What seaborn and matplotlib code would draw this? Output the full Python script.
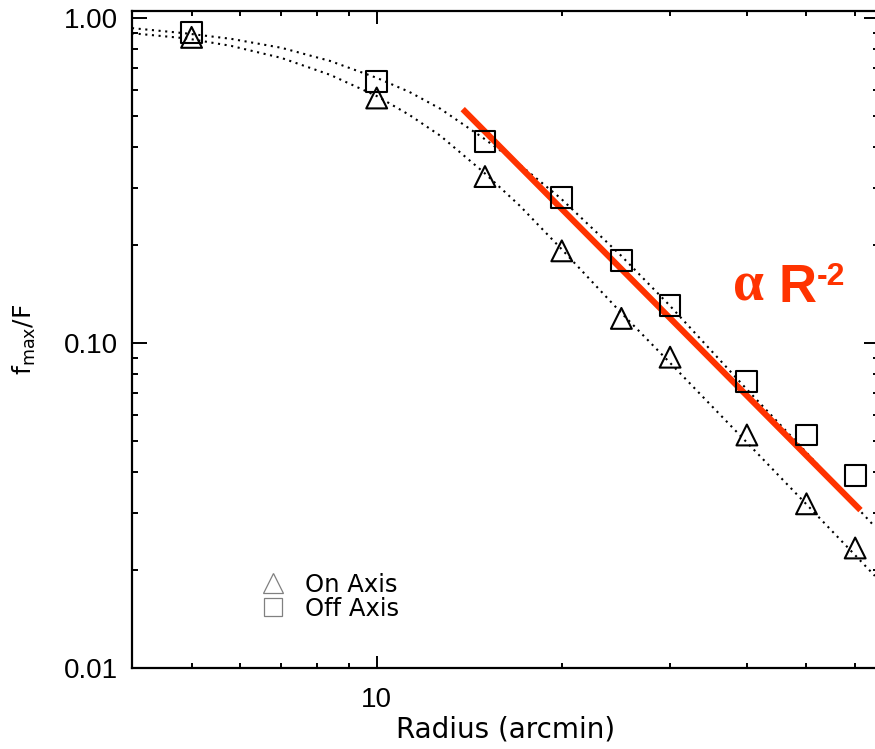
import matplotlib
matplotlib.use("Agg")
import matplotlib.pyplot as plt
import seaborn as sns
from matplotlib.lines import Line2D
from matplotlib.ticker import FixedLocator, NullFormatter, FixedFormatter

# ---- data ----
radius = [5, 10, 15, 20, 25, 30, 40, 50, 60]
on_axis = [0.871, 0.567, 0.325, 0.192, 0.119, 0.0904, 0.0521, 0.0320, 0.0234]
off_axis = [0.902, 0.637, 0.416, 0.281, 0.179, 0.130, 0.0760, 0.0521, 0.0391]

# dotted fit curves
fit_r = [4.0, 4.9, 5.8, 7.0, 8.4, 10.0, 11.3, 12.7, 14.9, 17.1, 19.9, 24.9, 29.9,
         39.8, 49.9, 59.9, 64.6]
off_fit = [0.930, 0.896, 0.862, 0.809, 0.737, 0.654, 0.592, 0.525, 0.427, 0.353,
           0.279, 0.1866, 0.1309, 0.0727, 0.0462, 0.0317, 0.0272]
on_fit = [0.897, 0.865, 0.820, 0.753, 0.668, 0.575, 0.503, 0.4335, 0.336, 0.264,
          0.196, 0.1246, 0.0874, 0.0499, 0.0320, 0.0223, 0.0192]

slope_r = [13.8, 61.2]
slope_f = [0.524, 0.0306]

x_major = [10]
x_major_labels = ["10"]
x_minor = [4, 5, 6, 7, 8, 9, 20, 30, 40, 50, 60]
y_major = [0.01, 0.1, 1.0]
y_major_labels = ["0.01", "0.10", "1.00"]
y_minor = [0.02, 0.03, 0.04, 0.05, 0.06, 0.07, 0.08, 0.09,
           0.2, 0.3, 0.4, 0.5, 0.6, 0.7, 0.8, 0.9]

sns.set_style("ticks")
plt.rcParams["font.family"] = ["Liberation Sans", "DejaVu Sans"]
plt.rcParams["mathtext.fontset"] = "dejavusans"
for k in ["text.color", "axes.labelcolor", "xtick.color", "ytick.color", "axes.edgecolor"]:
    plt.rcParams[k] = "black"

RED = "#FF3300"
W, H = 875, 749
fig = plt.figure(figsize=(W / 100, H / 100), dpi=100)
ax = fig.add_axes([132 / W, 1 - 668 / H, (879 - 132) / W, (668 - 11) / H])

# dotted fit curves
sns.lineplot(x=fit_r, y=off_fit, ax=ax, color="black", sort=False, estimator=None,
             linewidth=1.5, linestyle=(0, (1, 2.2)))
sns.lineplot(x=fit_r, y=on_fit, ax=ax, color="black", sort=False, estimator=None,
             linewidth=1.5, linestyle=(0, (1, 2.2)))

# R^-2 line
sns.lineplot(x=slope_r, y=slope_f, ax=ax, color=RED, sort=False, estimator=None,
             linewidth=4.4, solid_capstyle="butt")

# data points
sns.scatterplot(x=radius, y=on_axis, ax=ax, marker="^", s=225,
                facecolors="none", edgecolor="black", linewidth=1.5, zorder=5)
sns.scatterplot(x=radius, y=off_axis, ax=ax, marker="s", s=225,
                facecolors="none", edgecolor="black", linewidth=1.5, zorder=5)

ax.set_xscale("log")
ax.set_yscale("log")
ax.set_xlim(4, 65.6)
ax.set_ylim(0.01, 1.05)

ax.xaxis.set_major_locator(FixedLocator(x_major))
ax.xaxis.set_major_formatter(FixedFormatter(x_major_labels))
ax.xaxis.set_minor_locator(FixedLocator(x_minor))
ax.xaxis.set_minor_formatter(NullFormatter())
ax.yaxis.set_major_locator(FixedLocator(y_major))
ax.yaxis.set_major_formatter(FixedFormatter(y_major_labels))
ax.yaxis.set_minor_locator(FixedLocator(y_minor))
ax.yaxis.set_minor_formatter(NullFormatter())

for s in ax.spines.values():
    s.set_linewidth(1.6)
    s.set_color("black")

ax.tick_params(which="both", direction="in", top=True, right=True, width=1.4, color="black")
ax.tick_params(axis="x", which="major", length=9, pad=14, labelsize=20)
ax.tick_params(axis="x", which="minor", length=3.8)
ax.tick_params(axis="y", which="major", length=10.8, pad=10, labelsize=20)
ax.tick_params(axis="y", which="minor", length=4.4)

ax.set_xlabel("Radius (arcmin)", fontsize=20, family=["DejaVu Sans"])
ax.xaxis.set_label_coords(0.5, -0.072)
ax.xaxis.label.set_va("top")
ax.set_ylabel(r"f$_{\rm max}$/F", fontsize=18, family=["DejaVu Sans"])
ax.yaxis.set_label_coords(-0.126, 0.5)

# legend
handles = [
    Line2D([], [], linestyle="none", marker="^", markersize=14, markerfacecolor="none",
           markeredgecolor="#808080", markeredgewidth=0.9),
    Line2D([], [], linestyle="none", marker="s", markersize=13, markerfacecolor="none",
           markeredgecolor="#808080", markeredgewidth=0.9),
]
ax.legend(handles, ["On Axis", "Off Axis"], loc="center left", frameon=False,
          bbox_to_anchor=(255 / W, 1 - 596.5 / H), bbox_transform=fig.transFigure,
          prop={"family": "DejaVu Sans", "size": 17.5}, handlelength=1.5,
          handletextpad=0.56, borderpad=0, labelspacing=0.0, borderaxespad=0)

# annotation
fig.text(733 / W, 1 - 301 / H, "α", color=RED, fontsize=40, fontweight="bold",
         family=["Liberation Serif", "DejaVu Serif"], ha="left", va="baseline")
fig.text(778 / W, 1 - 302 / H, "R", color=RED, fontsize=38, fontweight="bold",
         ha="left", va="baseline")
fig.text(817 / W, 1 - 285 / H, "-2", color=RED, fontsize=23, fontweight="bold",
         ha="left", va="baseline")

fig.savefig("out.png", dpi=100)
